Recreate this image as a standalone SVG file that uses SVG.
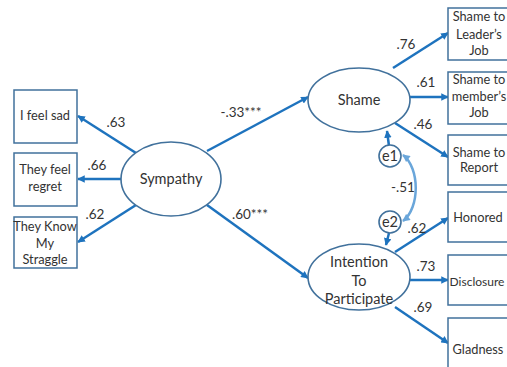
<svg xmlns="http://www.w3.org/2000/svg" width="507" height="367" viewBox="0 0 507 367">
<style>
.box{fill:#fff;stroke:#41719c;stroke-width:1.5}
.ell{fill:#fff;stroke:#41719c;stroke-width:1.6}
.t{font-family:Lato,"Liberation Sans",sans-serif;font-size:12.8px;fill:#333;text-anchor:middle}
.lt{font-family:Lato,"Liberation Sans",sans-serif;font-size:14.5px;fill:#333;text-anchor:middle}
.n{font-family:Lato,"Liberation Sans",sans-serif;font-size:13.5px;fill:#333;text-anchor:middle}
.a{stroke:#1e73be;stroke-width:2.5;fill:none;marker-end:url(#ah)}
.c{stroke:#6aa6da;stroke-width:2.5;fill:none;marker-start:url(#ah2);marker-end:url(#ah2)}
</style>
<defs>
<marker id="ah" viewBox="0 0 10 10" refX="9" refY="5" markerWidth="3.2" markerHeight="3" orient="auto" markerUnits="strokeWidth"><path d="M0,0L10,5L0,10z" fill="#1e73be"/></marker>
<marker id="ah2" viewBox="0 0 10 10" refX="9" refY="5" markerWidth="3.2" markerHeight="3" orient="auto-start-reverse" markerUnits="strokeWidth"><path d="M0,0L10,5L0,10z" fill="#6aa6da"/></marker>
</defs>
<g id="connectors">
<line class="a" x1="136" y1="153" x2="78" y2="116"/>
<line class="a" x1="121" y1="179" x2="78" y2="179"/>
<line class="a" x1="136" y1="205" x2="78" y2="242"/>
<line class="a" x1="207" y1="151" x2="308" y2="97"/>
<line class="a" x1="207" y1="205" x2="308" y2="278"/>
<line class="a" x1="393" y1="68" x2="448" y2="33"/>
<line class="a" x1="410" y1="97" x2="448" y2="97"/>
<line class="a" x1="395" y1="123" x2="448" y2="157"/>
<line class="a" x1="395" y1="252" x2="448" y2="218"/>
<line class="a" x1="410" y1="280" x2="448" y2="280"/>
<line class="a" x1="395" y1="307" x2="448" y2="343"/>
<line class="a" x1="389" y1="146" x2="387" y2="131"/>
<line class="a" x1="389" y1="233" x2="386" y2="245"/>
<path class="c" d="M403,155 C420,168 420,208 403,221"/>
</g>
<g id="n-sad"><rect class="box" x="14" y="90" width="63" height="53"/><text class="t" x="45" y="120">I feel sad</text></g>
<g id="n-regret"><rect class="box" x="14" y="153" width="63" height="53"/><text class="t" x="45" y="174">They feel</text><text class="t" x="45" y="191">regret</text></g>
<g id="n-struggle"><rect class="box" x="14" y="217" width="63" height="51"/><text class="t" x="45" y="231">They Know</text><text class="t" x="45" y="248">My</text><text class="t" x="45" y="264">Straggle</text></g>
<g id="n-sympathy"><ellipse class="ell" cx="171" cy="179" rx="50" ry="37"/><text class="lt" x="171" y="184">Sympathy</text></g>
<g id="n-shame"><ellipse class="ell" cx="359" cy="100" rx="51" ry="32"/><text class="lt" x="359" y="105">Shame</text></g>
<g id="n-intention"><ellipse class="ell" cx="359" cy="277" rx="51" ry="33"/><text class="lt" x="359" y="267">Intention</text><text class="lt" x="359" y="286">To</text><text class="lt" x="359" y="304">Participate</text></g>
<g id="n-e1"><circle class="ell" cx="390" cy="156" r="11"/><text class="lt" x="390" y="161">e1</text></g>
<g id="n-e2"><circle class="ell" cx="390" cy="222" r="11"/><text class="lt" x="390" y="227">e2</text></g>
<g id="n-leader"><rect class="box" x="448" y="8" width="62" height="52"/><text class="t" x="479" y="21">Shame to</text><text class="t" x="479" y="39">Leader’s</text><text class="t" x="479" y="55">Job</text></g>
<g id="n-member"><rect class="box" x="448" y="72" width="62" height="52"/><text class="t" x="479" y="84">Shame to</text><text class="t" x="479" y="101">member’s</text><text class="t" x="479" y="117">Job</text></g>
<g id="n-report"><rect class="box" x="448" y="135" width="62" height="50"/><text class="t" x="479" y="157">Shame to</text><text class="t" x="479" y="172">Report</text></g>
<g id="n-honored"><rect class="box" x="448" y="192" width="62" height="50"/><text class="t" x="478" y="222">Honored</text></g>
<g id="n-disclosure"><rect class="box" x="448" y="255" width="62" height="50"/><text class="t" x="477" y="286" style="font-size:12px">Disclosure</text></g>
<g id="n-gladness"><rect class="box" x="448" y="318" width="62" height="55"/><text class="t" x="478" y="354">Gladness</text></g>
<g id="labels">
<text class="n" x="116" y="127">.63</text>
<text class="n" x="97" y="170">.66</text>
<text class="n" x="95" y="219">.62</text>
<text class="n" x="241" y="117">-.33***</text>
<text class="n" x="250" y="219">.60***</text>
<text class="n" x="406" y="49">.76</text>
<text class="n" x="426" y="87">.61</text>
<text class="n" x="423" y="129">.46</text>
<text class="n" x="403" y="192">-.51</text>
<text class="n" x="417" y="233">.62</text>
<text class="n" x="426" y="271">.73</text>
<text class="n" x="423" y="312">.69</text>
</g>
</svg>
